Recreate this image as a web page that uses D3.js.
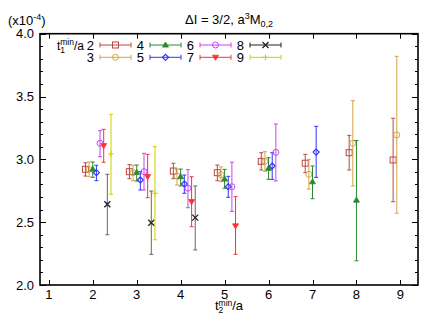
<!DOCTYPE html>
<html>
<head>
<meta charset="utf-8">
<script src="https://cdn.jsdelivr.net/npm/d3@7"></script>
<style>
  body { margin: 0; background: #fff; }
  text { font-family: "Liberation Sans", Arial, Helvetica, sans-serif; fill: #000; }
</style>
</head>
<body>
<div id="chart"></div>
<script>
// t2min/a ticks along the x axis
const xTicks = [1, 2, 3, 4, 5, 6, 7, 8, 9]
const yMajor = [2.0, 2.5, 3.0, 3.5, 4.0]

// one array per t1min/a, rows are [t2, value, upper, lower] in units of 1e-4
const s2 = [[2, 2.921, 2.973, 2.867], [3, 2.902, 2.958, 2.846], [4, 2.907, 2.969, 2.846], [5, 2.894, 2.955, 2.830],
            [6, 2.984, 3.053, 2.915], [7, 2.969, 3.040, 2.894], [8, 3.053, 3.191, 2.915], [9, 2.995, 3.327, 2.663]]
const s3 = [[2, 2.920, 2.979, 2.862], [3, 2.894, 2.953, 2.830], [4, 2.867, 2.921, 2.796], [5, 2.878, 2.940, 2.822],
            [6, 2.984, 3.061, 2.905], [7, 2.881, 3.000, 2.764], [8, 3.128, 3.467, 2.788], [9, 3.194, 3.820, 2.571]]
const s4 = [[2, 2.923, 2.979, 2.857], [3, 2.897, 2.955, 2.827], [4, 2.862, 2.923, 2.788], [5, 2.844, 2.920, 2.770],
            [6, 2.929, 3.013, 2.841], [7, 2.822, 2.947, 2.687], [8, 2.676, 3.150, 2.193]]
const s5 = [[2, 2.894, 2.953, 2.830], [3, 2.836, 2.902, 2.756], [4, 2.804, 2.875, 2.730], [5, 2.782, 2.865, 2.698],
            [6, 2.947, 3.053, 2.841], [7, 3.058, 3.263, 2.857]]
const s6 = [[2, 3.128, 3.228, 3.021], [3, 2.902, 3.048, 2.756], [4, 2.770, 2.918, 2.615], [5, 2.782, 2.977, 2.586],
            [6, 3.056, 3.281, 2.828]]
const s7 = [[2, 3.109, 3.239, 2.977], [3, 2.862, 3.040, 2.695], [4, 2.663, 2.862, 2.464], [5, 2.470, 2.703, 2.244]]
const s8 = [[2, 2.642, 2.881, 2.400], [3, 2.496, 2.748, 2.244], [4, 2.536, 2.788, 2.279]]
const s9 = [[2, 3.043, 3.358, 2.722], [3, 2.730, 3.101, 2.360]]

const t1Labels = [2, 3, 4, 5, 6, 7, 8, 9]
const seriesData = [s2, s3, s4, s5, s6, s7, s8, s9]

const colors = ['#b84848', '#d4a448', '#2a8a2a', '#3333ff', '#cc44f0', '#ff3030', '#222222', '#d0d000']
const barColors = ['#b84848', '#d4a448', '#2a8a2a', '#3333ff', '#cc44f0', '#ff3030', '#666666', '#d0d000']
const symbols = ['square', 'circle', 'triangle', 'diamond', 'circle', 'triangleDown', 'cross', 'plus']

const width = 436, height = 327
const margins = { top: 33.7, right: 18, bottom: 42, left: 40 }
const shift = 0.083   // horizontal offset between t1 series inside a group

const svg = d3.select('#chart').append('svg')
    .attr('width', width)
    .attr('height', height)

const xScale = d3.scaleLinear().domain([0.8, 9.4]).range([margins.left, width - margins.right])
const yScale = d3.scaleLinear().domain([2.0, 4.0]).range([height - margins.bottom, margins.top])

const x0 = margins.left, x1 = width - margins.right
const y0 = height - margins.bottom, y1 = margins.top

// ticks (inward, mirrored)
const ticksG = svg.append('g').attr('stroke', '#000').attr('stroke-width', 1)
xTicks.forEach(t => {
    const x = Math.round(xScale(t)) + 0.5
    ticksG.append('line').attr('x1', x).attr('x2', x).attr('y1', y0).attr('y2', y0 - 5)
    ticksG.append('line').attr('x1', x).attr('x2', x).attr('y1', y1).attr('y2', y1 + 5)
})
d3.range(20, 41).map(d => d / 10).forEach(v => {
    const y = Math.round(yScale(v)) + 0.5
    const major = yMajor.some(m => Math.abs(m - v) < 1e-6)
    const len = major ? 6 : 3
    ticksG.append('line').attr('x1', x0).attr('x2', x0 + len).attr('y1', y).attr('y2', y)
    ticksG.append('line').attr('x1', x1).attr('x2', x1 - len).attr('y1', y).attr('y2', y)
})

// tick labels
svg.append('g').selectAll('text').data(xTicks).join('text')
    .attr('x', d => xScale(d)).attr('y', y0 + 13.5)
    .attr('text-anchor', 'middle').attr('font-size', 13)
    .text(d => d)
svg.append('g').selectAll('text').data(yMajor).join('text')
    .attr('x', 34).attr('y', d => yScale(d) + 4.5)
    .attr('text-anchor', 'end').attr('font-size', 13)
    .text(d => d3.format('.1f')(d))

// symbol drawing
function drawSymbol(g, type, cx, cy, color) {
    const s = 3
    if (type === 'square') {
        g.append('rect').attr('x', cx - s).attr('y', cy - s).attr('width', 2 * s).attr('height', 2 * s)
            .attr('fill', 'none').attr('stroke', color).attr('stroke-width', 1)
    } else if (type === 'circle') {
        g.append('circle').attr('cx', cx).attr('cy', cy).attr('r', s)
            .attr('fill', 'none').attr('stroke', color).attr('stroke-width', 1)
    } else if (type === 'triangle') {
        g.append('path').attr('d', `M${cx},${cy - s}L${cx + s},${cy + s * 0.7}L${cx - s},${cy + s * 0.7}Z`)
            .attr('fill', color).attr('stroke', color).attr('stroke-width', 0.8)
    } else if (type === 'triangleDown') {
        g.append('path').attr('d', `M${cx},${cy + s}L${cx + s},${cy - s * 0.7}L${cx - s},${cy - s * 0.7}Z`)
            .attr('fill', color).attr('stroke', color).attr('stroke-width', 0.8)
    } else if (type === 'diamond') {
        g.append('path').attr('d', `M${cx},${cy - s}L${cx + s},${cy}L${cx},${cy + s}L${cx - s},${cy}Z`)
            .attr('fill', 'none').attr('stroke', color).attr('stroke-width', 1.2)
    } else if (type === 'cross') {
        g.append('path').attr('d', `M${cx - s},${cy - s}L${cx + s},${cy + s}M${cx - s},${cy + s}L${cx + s},${cy - s}`)
            .attr('stroke', color).attr('stroke-width', 1.3)
    } else if (type === 'plus') {
        g.append('path').attr('d', `M${cx - s},${cy}L${cx + s},${cy}M${cx},${cy - s}L${cx},${cy + s}`)
            .attr('stroke', color).attr('stroke-width', 1)
    }
}

// error bars + points
seriesData.forEach((series, i) => {
    const g = svg.append('g')
    const color = colors[i]
    const off = (t1Labels[i] - 4) * shift
    series.forEach(d => {
        const cx = xScale(d[0] + off)
        g.append('line').attr('x1', cx).attr('x2', cx)
            .attr('y1', yScale(d[2])).attr('y2', yScale(d[3]))
            .attr('stroke', barColors[i]).attr('stroke-width', 1)
        ;[d[2], d[3]].forEach(v => {
            g.append('line').attr('x1', cx - 2).attr('x2', cx + 2)
                .attr('y1', yScale(v)).attr('y2', yScale(v))
                .attr('stroke', barColors[i]).attr('stroke-width', 1)
        })
        drawSymbol(g, symbols[i], cx, yScale(d[1]), color)
    })
})

// border
svg.append('rect')
    .attr('x', x0).attr('y', y1).attr('width', x1 - x0).attr('height', y0 - y1)
    .attr('fill', 'none').attr('stroke', '#000').attr('stroke-width', 1.6)

// t with stacked subscript and "min" superscript, then "/a"
function tLabel(sel, sub) {
    sel.append('tspan').text('t')
    sel.append('tspan').attr('font-size', 8.5).attr('dy', 3).text(sub)
    sel.append('tspan').attr('font-size', 8.5).attr('dx', -4.7).attr('dy', -7.5).text('min')
    sel.append('tspan').attr('dy', 4.5).text('/a')
}

// legend
const legend = svg.append('g')
const lt = legend.append('text').attr('x', 84).attr('y', 49.5)
    .attr('text-anchor', 'end').attr('font-size', 12)
tLabel(lt, '1')

t1Labels.forEach((t, i) => {
    const col = Math.floor(i / 2), row = i % 2
    const y = 45 + row * 12.3
    const lx = 100 + col * 50, rx = 131 + col * 50
    legend.append('text').attr('x', 94 + col * 50).attr('y', y + 4.5)
        .attr('text-anchor', 'end').attr('font-size', 13).text(t)
    legend.append('line').attr('x1', lx).attr('x2', rx).attr('y1', y).attr('y2', y)
        .attr('stroke', colors[i]).attr('stroke-width', 1)
    ;[lx, rx].forEach(x => legend.append('line').attr('x1', x).attr('x2', x)
        .attr('y1', y - 2.5).attr('y2', y + 2.5).attr('stroke', colors[i]).attr('stroke-width', 1))
    drawSymbol(legend, symbols[i], (lx + rx) / 2, y, colors[i])
})

// title
const title = svg.append('text').attr('x', (x0 + x1) / 2).attr('y', 24)
    .attr('text-anchor', 'middle').attr('font-size', 13)
title.append('tspan').text('ΔI = 3/2, a')
title.append('tspan').attr('font-size', 9).attr('dy', -5).text('3')
title.append('tspan').attr('dy', 5).text('M')
title.append('tspan').attr('font-size', 9).attr('dy', 3).text('0,2')

// scale factor
const sf = svg.append('text').attr('x', 8).attr('y', 25).attr('font-size', 13)
sf.append('tspan').text('(x10')
sf.append('tspan').attr('font-size', 9).attr('dy', -5).text('-4')
sf.append('tspan').attr('dy', 5).text(')')

// x label
const xl = svg.append('text').attr('x', 229).attr('y', 310)
    .attr('text-anchor', 'middle').attr('font-size', 13)
tLabel(xl, '2')
</script>
</body>
</html>
